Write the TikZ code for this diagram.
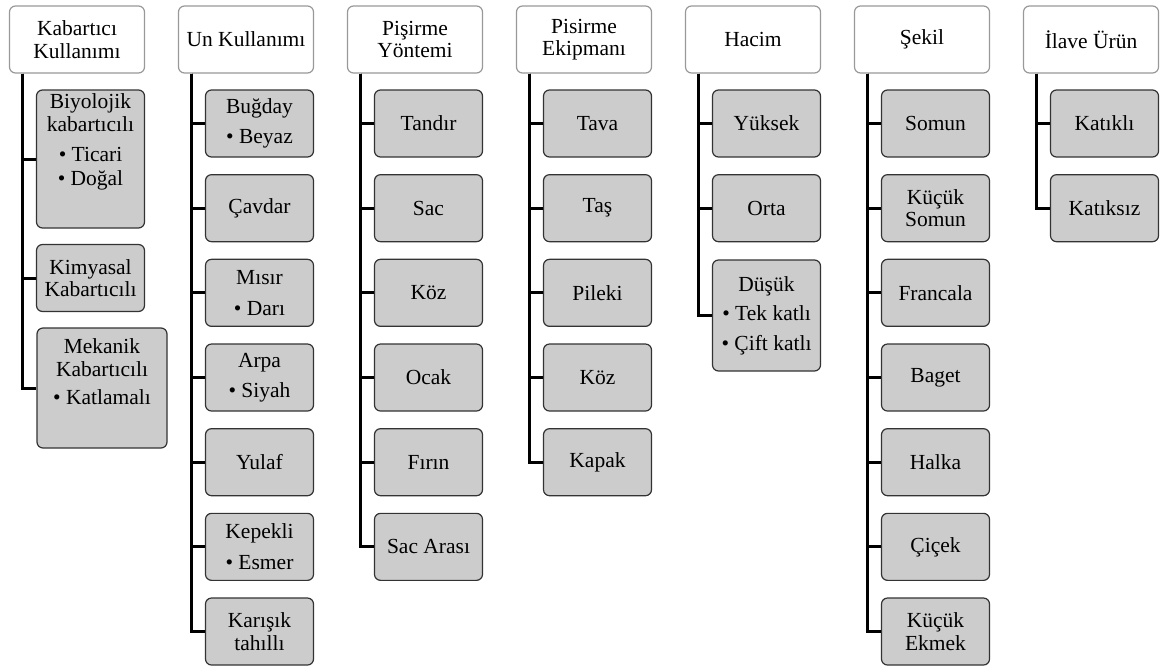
\documentclass[tikz,border=0pt]{standalone}
\usepackage{fontspec}
\setmainfont{Liberation Serif}

\begin{document}
\begin{tikzpicture}[
      x=1pt, y=-1pt,
      font=\fontsize{21.5}{22.5}\selectfont,
      head/.style={draw=black!40, fill=white, rounded corners=6pt, line width=1.2pt,
        minimum width=135pt, minimum height=67pt, inner sep=0pt, align=center},
      item/.style={head, draw=black!80, fill=black!20, minimum width=108pt},
      link/.style={line width=3pt}
    ]
    \useasboundingbox (0,0) rectangle (1161,665);
    \foreach \txt [count=\i] in {{Kabartıcı\\Kullanımı}, Un Kullanımı, {Pişirme\\Yöntemi},
        {Pisirme\\Ekipmanı}, Hacim, Şekil, İlave Ürün}
      \node[head] (h\i) at ({77+169*(\i-1)}, 39.5) {\txt};

    \node[item, minimum height=138pt] (kab1) at (90.5,159) {Biyolojik\\kabartıcılı\\[8pt]• Ticari\\[1pt]• Doğal\\[16pt]};
    \node[item] (kab2) at (90.5,278) {Kimyasal\\Kabartıcılı};
    \node[item, minimum width=130pt, minimum height=120pt] (kab3) at (102,388) {Mekanik\\Kabartıcılı\\[6pt]• Katlamalı\\[10pt]};
    \foreach \k in {1,2,3}
      \draw[link] ([xshift=14pt]h1.south west) |- (kab\k.west);

    \foreach \txt [count=\k] in {{Buğday\\[8pt]• Beyaz}, Çavdar, {Mısır\\[8pt]• Darı}, {Arpa\\[8pt]• Siyah},
        Yulaf, {Kepekli\\[8pt]• Esmer}, {Karışık\\tahıllı}} {
      \node[item] (un\k) at (259.5, {123.5+84.67*(\k-1)}) {\txt};
      \draw[link] ([xshift=14pt]h2.south west) |- (un\k.west);
    }

    \foreach \txt [count=\k] in {Tandır, Sac, Köz, Ocak, Fırın, Sac Arası} {
      \node[item] (yon\k) at (428.5, {123.5+84.67*(\k-1)}) {\txt};
      \draw[link] ([xshift=14pt]h3.south west) |- (yon\k.west);
    }

    \foreach \txt [count=\k] in {Tava, Taş, Pileki, Köz, Kapak} {
      \node[item] (ekp\k) at (597.5, {123.5+84.67*(\k-1)}) {\txt};
      \draw[link] ([xshift=14pt]h4.south west) |- (ekp\k.west);
    }

    \node[item] (hac1) at (766.5,123.5) {Yüksek};
    \node[item] (hac2) at (766.5,208.2) {Orta};
    \node[item, minimum height=111pt] (hac3) at (766.5,315.5) {Düşük\\[7pt]• Tek katlı\\[7pt]• Çift katlı};
    \foreach \k in {1,2,3}
      \draw[link] ([xshift=14pt]h5.south west) |- (hac\k.west);

    \foreach \txt [count=\k] in {Somun, {Küçük\\Somun}, Francala, Baget, Halka, Çiçek, {Küçük\\Ekmek}} {
      \node[item] (sek\k) at (935.5, {123.5+84.67*(\k-1)}) {\txt};
      \draw[link] ([xshift=14pt]h6.south west) |- (sek\k.west);
    }

    \foreach \txt [count=\k] in {Katıklı, Katıksız} {
      \node[item] (ilv\k) at (1104.5, {123.5+84.67*(\k-1)}) {\txt};
      \draw[link] ([xshift=14pt]h7.south west) |- (ilv\k.west);
    }
  \end{tikzpicture}
\end{document}
